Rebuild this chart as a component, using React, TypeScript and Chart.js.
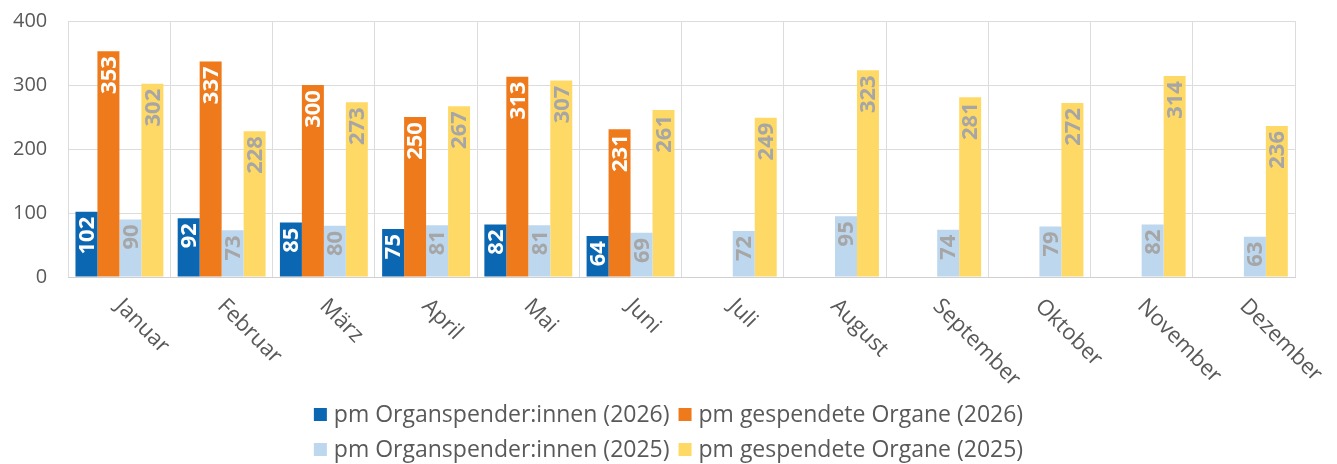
import React, { useEffect, useRef } from "react";
import { Chart, registerables } from "chart.js";

Chart.register(...registerables);

const months = ["Januar", "Februar", "März", "April", "Mai", "Juni", "Juli", "August", "September", "Oktober", "November", "Dezember"];
const spender2026 = [102, 92, 85, 75, 82, 64, null, null, null, null, null, null];
const organe2026 = [353, 337, 300, 250, 313, 231, null, null, null, null, null, null];
const spender2025 = [90, 73, 80, 81, 81, 69, 72, 95, 74, 79, 82, 63];
const organe2025 = [302, 228, 273, 267, 307, 261, 249, 323, 281, 272, 314, 236];
const seriesNames = ["pm Organspender:innen (2026)", "pm gespendete Organe (2026)", "pm Organspender:innen (2025)", "pm gespendete Organe (2025)"];
const seriesColors = ["#0b67b2", "#ee7a1c", "#bdd7ee", "#ffd966"];
const labelColors = ["#ffffff", "#ffffff", "#a6a6a6", "#a6a6a6"];
const yTicks = [0, 100, 200, 300, 400];

const FONT = "'Open Sans', 'Noto Sans', sans-serif";
const TEXT = "#595959";

const drawPlugin = {
  id: "customDraw",
  afterDatasetsDraw(chart: any) {
    const ctx = chart.ctx;
    chart.data.datasets.forEach((ds: any, di: number) => {
      const meta = chart.getDatasetMeta(di);
      meta.data.forEach((bar: any, i: number) => {
        const v = ds.data[i];
        if (v == null) return;
        ctx.save();
        ctx.translate(bar.x, bar.y + 5);
        ctx.rotate(-Math.PI / 2);
        ctx.font = `bold 22px ${FONT}`;
        ctx.fillStyle = labelColors[di];
        ctx.textAlign = "right";
        ctx.textBaseline = "middle";
        ctx.fillText(String(v), 0, 1);
        ctx.restore();
      });
    });
  },
  afterDraw(chart: any) {
    const ctx = chart.ctx;
    const xs = chart.scales.x;
    months.forEach((m, i) => {
      const x = xs.getPixelForTick(i);
      ctx.save();
      ctx.translate(x + 7, 295);
      ctx.rotate(Math.PI / 4);
      ctx.font = `22px ${FONT}`;
      ctx.fillStyle = TEXT;
      ctx.textAlign = "left";
      ctx.textBaseline = "top";
      ctx.fillText(m, 0, 0);
      ctx.restore();
    });
    ctx.save();
    ctx.font = `23px ${FONT}`;
    ctx.textBaseline = "middle";
    ctx.textAlign = "left";
    const box = 13;
    const gapBox = 7;
    const gapItem = 9;
    const rows = [[0, 1], [2, 3]];
    const rowY = [414.5, 449.5];
    const cx = chart.width / 2;
    rows.forEach((row, r) => {
      const widths = row.map((k) => box + gapBox + ctx.measureText(seriesNames[k]).width);
      const total = widths.reduce((a, b) => a + b, 0) + gapItem * (row.length - 1);
      let x = cx - total / 2;
      row.forEach((k, j) => {
        ctx.fillStyle = seriesColors[k];
        ctx.fillRect(x, rowY[r] - box / 2, box, box);
        ctx.fillStyle = TEXT;
        ctx.fillText(seriesNames[k], x + box + gapBox, rowY[r] + 1);
        x += widths[j] + gapItem;
      });
    });
    ctx.restore();
  },
};

export default function App() {
  const ref = useRef<HTMLCanvasElement>(null);
  useEffect(() => {
    if (!ref.current) return;
    const chart = new Chart(ref.current, {
      type: "bar",
      data: {
        labels: months,
        datasets: [
          { label: seriesNames[0], data: spender2026, backgroundColor: seriesColors[0] },
          { label: seriesNames[1], data: organe2026, backgroundColor: seriesColors[1] },
          { label: seriesNames[2], data: spender2025, backgroundColor: seriesColors[2] },
          { label: seriesNames[3], data: organe2025, backgroundColor: seriesColors[3] },
        ],
      },
      options: {
        animation: false,
        responsive: false,
        maintainAspectRatio: false,
        layout: { padding: { left: -8, right: 42, top: 0, bottom: 187 } },
        datasets: { bar: { categoryPercentage: 0.86, barPercentage: 1 } },
        scales: {
          x: {
            grid: { color: "#dcdcdc", offset: true, drawTicks: false },
            border: { color: "#d0d0d0" },
            ticks: { display: false },
          },
          y: {
            min: 0,
            max: 400,
            afterBuildTicks: (axis: any) => {
              axis.ticks = yTicks.map((v) => ({ value: v }));
            },
            grid: { color: "#dcdcdc", drawTicks: false },
            border: { display: false },
            ticks: { color: TEXT, font: { family: FONT, size: 20, lineHeight: 0.01 }, padding: 21 },
          },
        },
        plugins: {
          legend: { display: false },
          tooltip: { enabled: false },
        },
      },
      plugins: [drawPlugin],
    });
    return () => chart.destroy();
  }, []);
  return (
    <div style={{ position: "fixed", left: 0, top: 0, width: 1337, height: 464, background: "#fff" }}>
      <canvas ref={ref} width={1337} height={464} style={{ width: 1337, height: 464 }} />
    </div>
  );
}
